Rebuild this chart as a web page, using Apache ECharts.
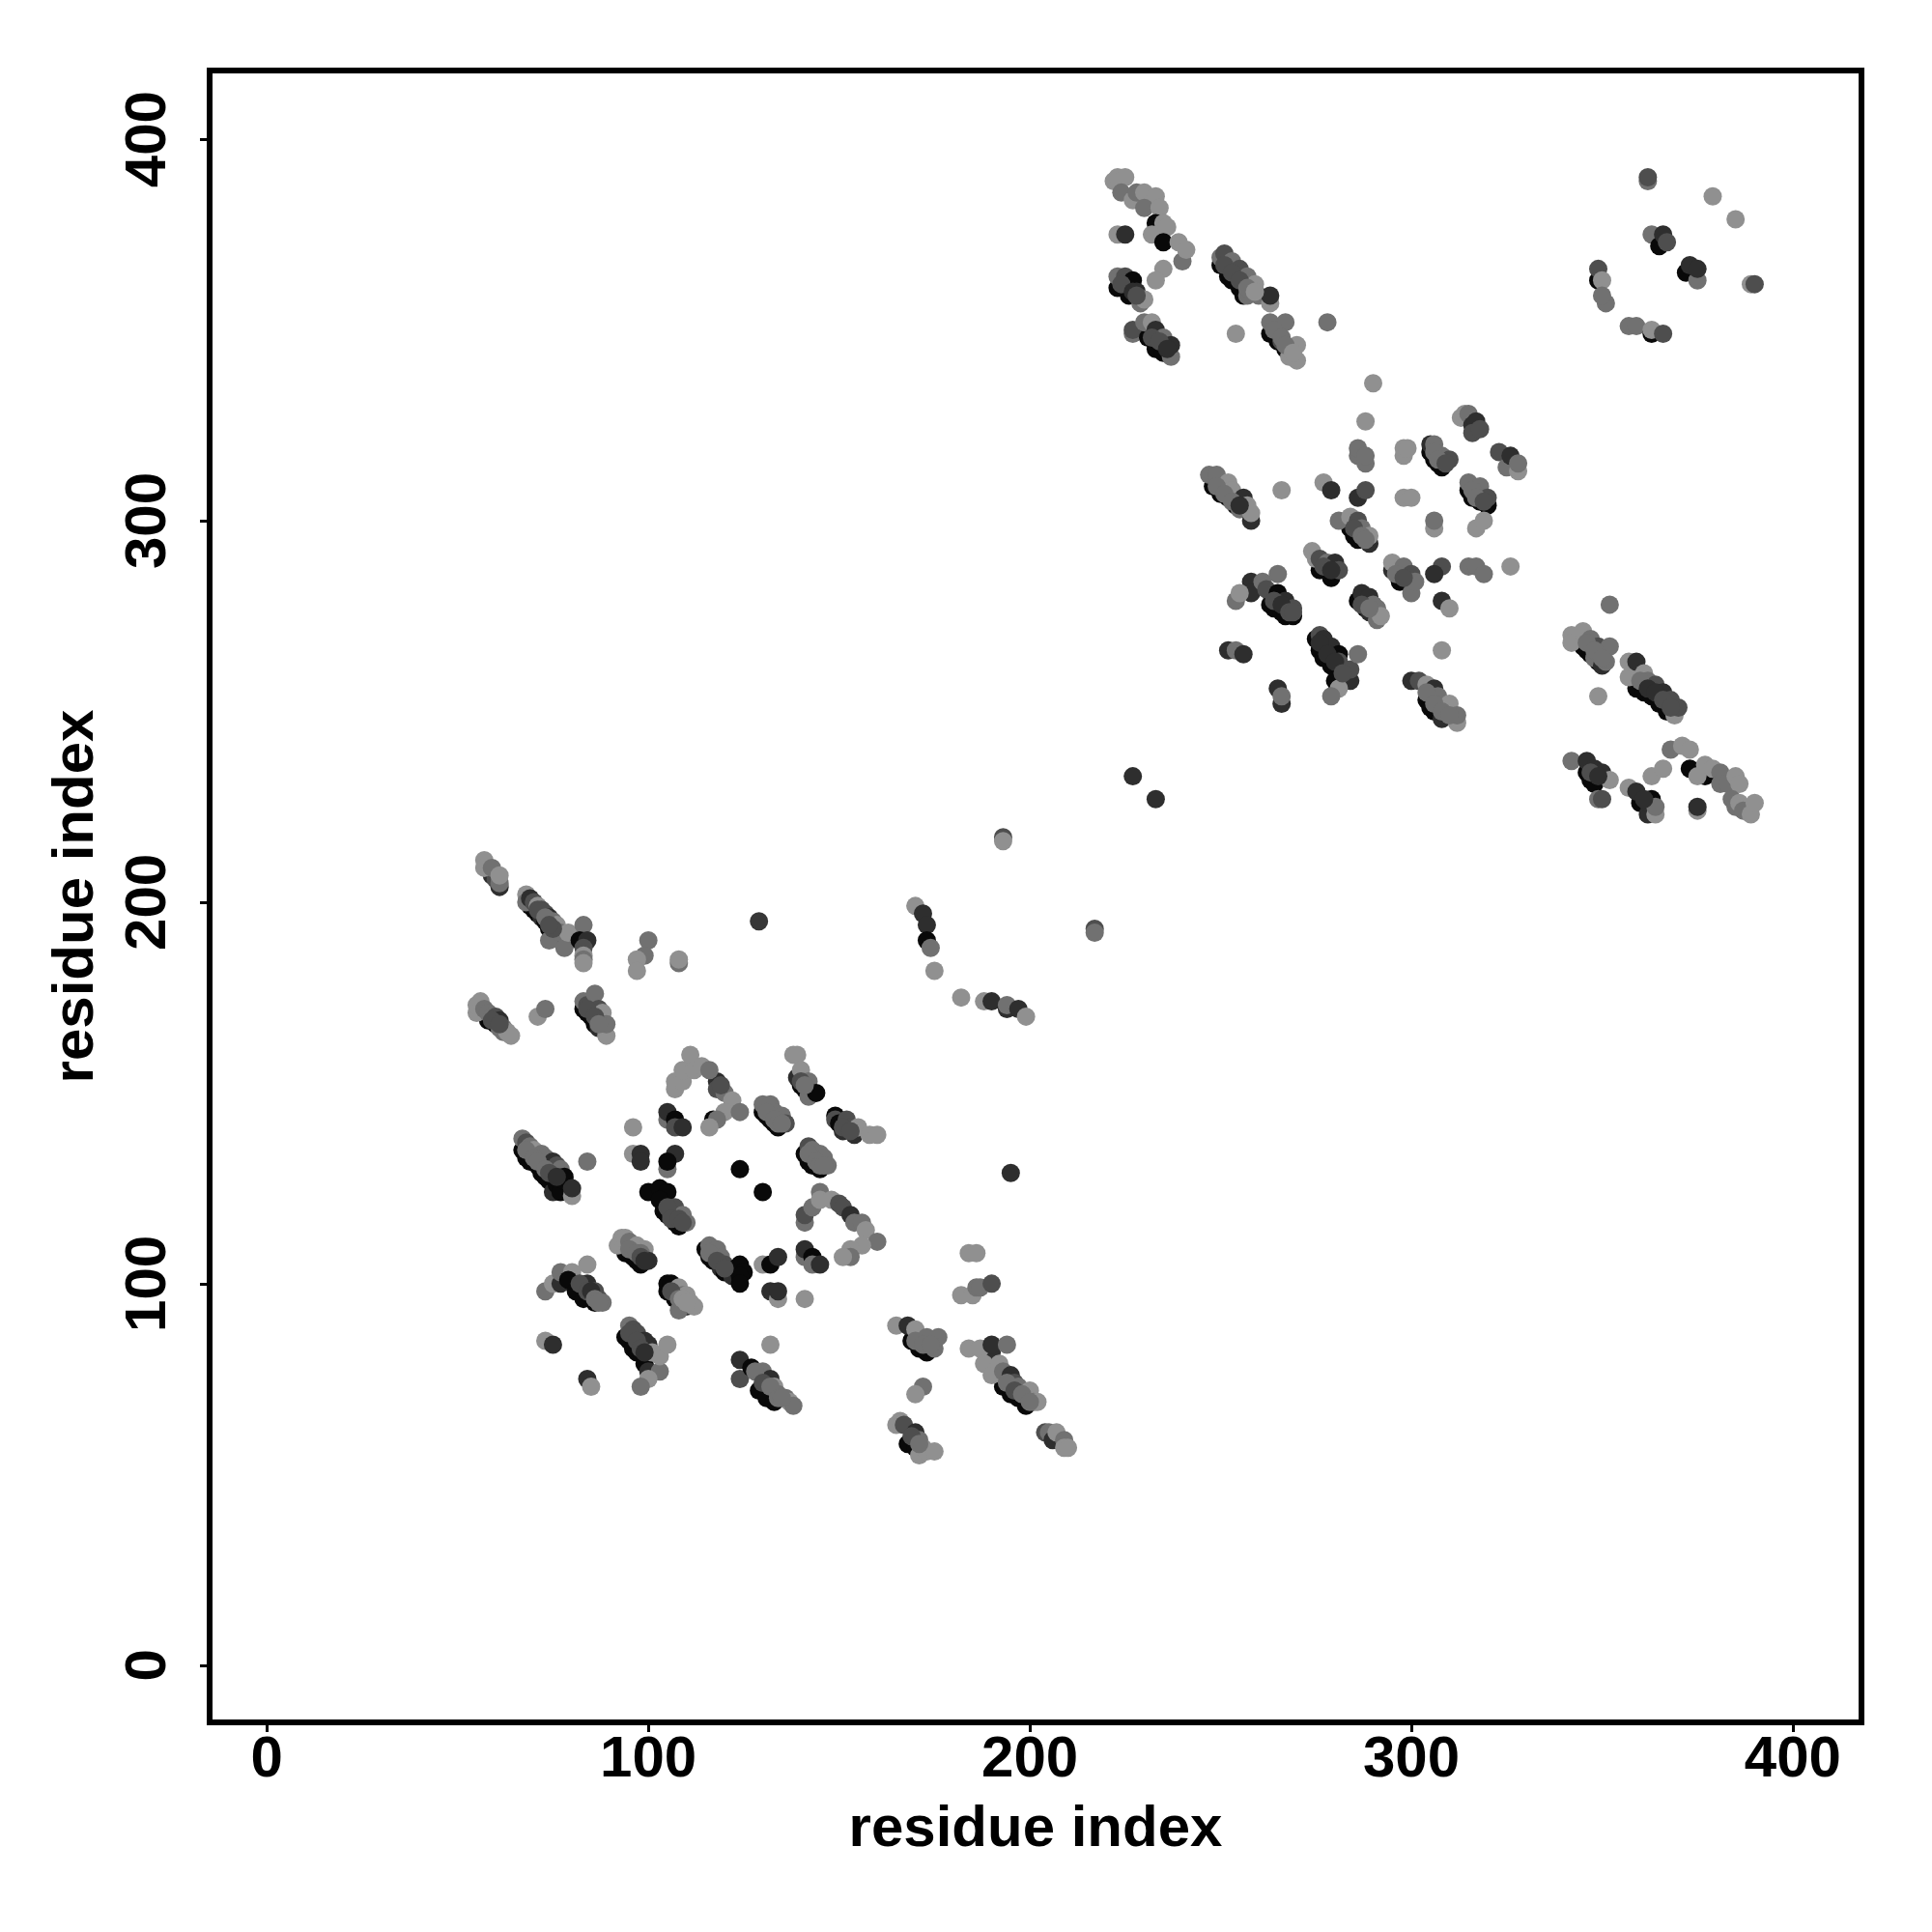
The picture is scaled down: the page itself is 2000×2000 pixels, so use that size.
<!DOCTYPE html>
<html><head><meta charset="utf-8">
<style>html,body{margin:0;padding:0;background:#fff}#c{width:2000px;height:2000px}</style>
<script src="https://cdn.jsdelivr.net/npm/echarts@6/dist/echarts.min.js"></script>
</head><body><div id="c"></div>
<script>
// each contact: [residue i, residue j, shade level 0 (black) .. 100 (lightest grey)]
const tickValues=[0,100,200,300,400];
const axisTitle="residue index";
const a1=[[59,207,25],[61,204,25],[60,206,45],[57,211,93],[57,209,93],[59,209,70],[61,205,70],[61,207,93]];
const a2=[[69,199,5],[70,198,5],[71,197,5],[72,196,25],[73,195,5],[74,193,5],[75,192,5],[76,191,25],[68,202,93],[68,200,70],[69,201,25],[70,200,45],[71,199,93],[72,198,45],[73,197,45],[74,196,25],[74,190,70],[75,195,70],[76,194,93],[77,192,70],[78,188,70],[79,192,93],[83,194,70],[82,190,5],[84,190,25],[83,188,45],[83,186,93],[83,185,70],[83,184,93]];
const a3=[[100,190,70],[99,186,70],[97,185,93],[97,182,93],[108,184,70],[108,185,93],[129,195,30]];
const a4=[[58,169,5],[60,168,5],[55,171,93],[55,173,93],[56,174,93],[57,172,70],[58,171,70],[59,170,70],[60,170,45],[61,169,25],[61,167,70],[62,166,70],[62,167,70],[63,166,93],[64,165,93],[71,170,93],[73,172,70]];
const a5=[[83,172,5],[84,171,5],[85,170,5],[86,168,5],[87,167,25],[83,174,70],[84,173,45],[86,176,70],[87,172,45],[88,171,93],[88,168,70],[89,165,93],[89,168,70]];
const b1=[[118,153,25],[117,143,5],[107,151,93],[107,153,93],[109,153,93],[109,156,93],[111,160,93],[112,156,93],[114,157,93],[116,156,70],[118,151,45],[120,150,70],[122,148,93],[120,145,93],[118,143,70],[116,141,93],[124,145,70]];
const b1b=[[105,143,70],[105,145,25],[107,143,5],[107,141,45],[109,141,25]];
const b2=[[139,154,25],[140,152,5],[141,151,5],[142,149,70],[138,160,93],[139,160,93],[140,156,93],[142,153,70],[144,150,5]];
const b3=[[130,145,5],[131,144,5],[132,143,5],[133,142,5],[134,141,5],[130,147,70],[132,147,70],[133,145,70],[135,144,70],[136,142,45]];
const b4=[[151,140,25],[154,139,25],[149,144,5],[149,143,45],[150,142,5],[152,143,45],[153,141,45],[155,141,93],[158,139,93],[160,139,93]];
const b5=[[141,134,5],[142,132,5],[143,131,5],[145,130,5],[142,136,45],[143,135,70],[145,134,70],[146,133,70],[147,131,70]];
const b6=[[96,141,93],[96,134,93],[98,134,25],[98,132,25],[105,130,70],[107,134,25],[105,132,5],[124,130,5],[130,124,5]];
const c1=[[67,135,5],[68,133,5],[69,132,5],[71,131,5],[72,129,5],[73,128,5],[74,127,5],[75,124,25],[76,126,5],[77,124,5],[78,127,5],[80,123,93],[67,138,70],[68,137,45],[69,136,70],[70,135,93],[72,134,70],[73,133,70],[75,132,25],[76,131,45],[77,130,70],[78,128,5],[80,125,25],[84,132,70]];
const c2=[[100,124,5],[103,125,5],[105,124,5],[103,122,5],[104,119,5],[105,118,5],[107,116,5],[108,115,5],[106,118,45],[107,120,45],[109,118,70],[110,116,70]];
const c3=[[141,116,70],[141,118,45],[143,120,70],[145,124,70],[145,122,93],[148,122,93],[150,121,45],[151,120,45],[153,118,25],[154,116,70],[156,116,70],[157,114,93],[160,111,70],[156,110,93],[153,109,93],[153,107,70],[151,107,93]];
const d1=[[93,110,5],[94,108,5],[96,107,5],[97,106,5],[98,105,5],[92,110,93],[93,112,93],[94,112,93],[95,111,70],[97,110,93],[99,109,93],[98,108,70],[100,106,25]];
const d2=[[115,109,5],[116,107,5],[117,106,5],[119,104,25],[120,103,5],[116,110,70],[118,109,70],[119,107,70],[119,106,70],[120,105,45],[122,102,25],[123,104,5],[124,105,5],[125,103,5],[124,102,5],[124,100,5]];
const d3=[[130,105,93],[132,105,5],[134,107,25],[141,107,70],[141,109,25],[143,107,5],[143,105,70],[145,105,25]];
const d4=[[132,98,25],[134,96,93],[134,98,25],[141,96,93]];
const e1=[[73,98,70],[75,100,93],[77,100,25],[77,103,70],[80,103,93],[79,101,5],[84,105,93],[81,98,5],[84,100,25],[83,96,5],[85,97,5],[86,98,45],[86,95,5],[87,96,45],[88,95,70]];
const f1=[[105,98,5],[105,100,5],[106,100,5],[107,96,5],[109,95,5],[110,94,25],[108,99,93],[109,97,70],[110,97,93],[111,95,93],[108,93,70],[112,94,93]];
const g1=[[73,85,93],[75,84,25],[84,75,25],[85,73,93]];
const h1=[[94,86,5],[95,85,5],[96,83,5],[97,82,5],[99,79,5],[95,89,70],[96,88,45],[97,87,45],[99,85,25],[100,84,25],[100,77,25],[103,77,70],[100,75,93],[98,73,70],[101,82,93],[103,81,93],[105,84,93]];
const i1=[[124,80,25],[124,75,45],[127,78,5],[129,72,5],[131,70,5],[133,69,5],[130,77,70],[132,75,25],[133,73,93],[134,71,70],[136,70,70],[137,69,93],[138,68,70],[132,84,93]];
const j1=[[175,182,93],[182,175,93],[188,174,93],[190,174,25],[194,172,25],[194,173,70],[197,172,25],[199,170,93],[195,129,25],[184,108,93],[186,108,93],[182,97,93],[185,97,93],[186,99,70],[187,99,70],[190,100,45]];
const k1=[[169,85,5],[171,83,5],[173,82,5],[165,89,93],[168,89,25],[170,88,93],[173,86,70],[175,83,70],[176,86,70],[172,73,70],[170,71,93]];
const l1=[[168,58,5],[170,57,5],[165,63,93],[166,64,93],[167,63,45],[170,61,25],[171,59,70],[171,55,93],[172,57,93],[173,56,93],[175,56,93]];
const m1=[[193,73,5],[195,71,5],[197,70,5],[199,68,5],[190,82,25],[184,83,93],[187,83,93],[190,84,25],[194,84,70],[188,79,93],[190,76,93],[192,79,93],[193,77,70],[195,76,25],[196,74,45],[197,73,70],[199,71,70],[200,72,93],[201,69,70],[202,69,93]];
const n1=[[204,61,45],[205,61,70],[206,59,25],[207,61,93],[209,59,70],[209,57,93],[210,57,93]];
const s1=[[193,217,45],[193,216,93],[217,193,45],[217,192,70],[227,233,25],[233,227,25],[170,199,93],[172,197,25],[173,194,25],[173,190,5],[174,188,70]];
const o1=[[222,389,93],[223,390,93],[225,390,93],[224,386,70],[227,384,93],[228,386,70],[230,386,93],[233,385,93],[230,382,70],[234,382,93],[223,375,93],[225,375,25],[233,378,5],[232,375,93],[235,378,93],[236,377,93],[235,373,5],[240,368,70],[239,373,93],[241,371,93],[235,366,93],[233,363,93]];
const p1=[[223,361,5],[226,359,5],[223,364,70],[225,364,45],[227,363,5],[228,360,25],[229,357,70],[230,358,93]];
const q1=[[227,349,70],[227,350,45],[231,348,5],[233,345,5],[235,344,5],[230,352,70],[232,352,93],[233,350,25],[235,348,70],[237,343,70],[237,346,25]];
const r1=[[250,367,5],[252,364,5],[253,363,5],[255,361,5],[256,359,5],[250,369,70],[251,370,45],[253,368,70],[255,366,45],[257,364,70],[257,359,70],[259,362,93],[260,359,70],[263,357,93],[263,359,25],[254,349,93]];
const s2=[[263,349,5],[265,347,5],[267,345,5],[263,352,70],[266,347,45],[267,352,70],[268,343,93],[270,342,93],[270,346,93],[278,352,70]];
const t1=[[290,336,93],[288,326,93],[286,317,70],[286,319,70],[288,315,70],[288,317,70]];
const u1=[[248,309,5],[250,307,5],[252,306,5],[254,304,5],[247,312,70],[249,312,70],[252,310,93],[253,308,93],[255,303,70],[256,306,25],[258,300,25],[257,304,93],[258,302,93],[266,308,93],[277,310,93],[279,308,25],[286,306,25],[288,308,45],[298,306,93],[300,306,93],[298,317,93],[298,319,93],[299,319,93]];
const v1=[[305,318,5],[306,316,5],[307,315,5],[308,314,5],[305,320,25],[306,320,70],[308,317,70],[310,316,45]];
const w1=[[313,327,93],[314,328,93],[315,328,70],[316,325,25],[317,326,25],[316,323,45],[318,324,45]];
const x1=[[323,318,45],[325,314,70],[326,317,25],[328,313,93],[328,315,70]];
const y1=[[315,308,5],[316,306,5],[318,305,5],[320,304,5],[315,310,70],[318,309,70],[320,306,45],[306,298,93],[306,300,70],[317,298,93],[319,300,93]];
const z1=[[284,298,5],[285,296,5],[286,295,5],[289,294,25],[281,300,70],[284,301,93],[286,300,45],[287,298,70],[289,296,93]];
const aa=[[276,287,5],[279,285,5],[274,292,93],[275,290,93],[276,290,45],[278,289,70],[280,289,25],[281,287,45]];
const bb=[[297,284,5],[295,287,25],[295,289,93],[298,288,70],[300,286,45],[300,281,70],[301,284,70],[308,288,45],[306,286,25],[315,288,70],[317,288,70],[319,286,70],[326,288,93],[308,279,25],[310,277,93],[308,266,93]];
const cc=[[263,278,5],[264,277,5],[266,276,5],[267,275,5],[269,275,5],[258,284,25],[258,281,25],[254,279,70],[255,281,93],[261,284,70],[262,282,45],[265,286,70],[265,281,5],[267,279,25],[269,277,45]];
const dd=[[286,279,5],[288,277,5],[289,276,25],[287,281,25],[289,280,25],[290,278,70],[291,274,70],[291,277,70],[292,275,93]];
const ee=[[252,266,25],[254,266,70],[256,265,25],[265,256,25],[266,252,25],[266,254,70]];
const ff=[[275,269,5],[276,266,5],[277,264,5],[279,262,5],[281,261,5],[276,270,45],[277,269,25],[279,267,25],[281,265,5],[281,263,45],[280,258,5],[284,258,25],[284,261,45],[281,256,93],[279,254,70],[286,265,70]];
const gg=[[304,253,5],[305,251,5],[306,250,5],[300,258,25],[302,258,45],[304,257,93],[306,256,25],[307,254,70],[308,248,25],[310,252,93],[312,247,93],[312,249,70]];
const hh=[[345,267,5],[346,266,5],[347,265,5],[349,263,5],[342,270,93],[342,268,93],[345,271,93],[347,269,70],[348,264,70],[349,267,45],[350,262,25],[351,263,70],[352,267,70],[349,254,93],[352,278,70]];
const ii=[[359,256,5],[361,255,5],[363,254,5],[365,252,5],[367,250,5],[357,259,93],[357,263,93],[359,263,25],[361,260,93],[362,258,70],[364,257,45],[366,255,25],[368,253,45],[369,249,93],[370,251,45]];
const jj=[[346,234,5],[347,232,5],[348,231,5],[342,237,70],[346,237,25],[348,235,25],[350,234,25],[352,232,93],[349,227,70],[350,227,45]];
const kk=[[360,226,5],[362,223,25],[357,230,93],[359,229,25],[362,226,25],[363,227,5],[364,223,93],[364,225,70],[363,233,93],[366,235,93],[375,224,93],[375,225,25]];
const ll=[[373,235,5],[377,233,5],[368,240,70],[371,241,93],[373,240,93],[375,233,93],[377,236,93],[379,235,93],[381,234,70],[381,231,70],[383,231,70],[385,233,93],[386,231,93],[384,227,70],[385,225,70],[386,226,93],[387,224,70],[389,223,93],[390,226,93]];
const top1=[[362,389,70],[362,390,45],[379,385,93],[385,379,93],[363,375,70],[365,372,5],[366,375,25],[367,373,45],[372,365,5],[373,367,25],[375,363,70],[375,366,25],[389,362,93],[390,362,45]];
const top2=[[349,363,5],[349,366,45],[350,363,93],[351,357,70],[350,359,70],[357,351,70],[359,351,70],[363,349,5],[363,350,93],[366,349,45]];
// residues in the middle of each band, which sit over the darkest contacts
const midLowerLeft=[[71,198,45],[73,196,70],[75,193,45],[74,194,45],[59,169,45],[61,168,45],[84,172,45],[86,170,45],[87,168,70],[119,152,45],[140,153,45],[141,152,70],[131,145,70],[133,143,70],[134,142,70],[135,142,70],[151,141,45],[153,140,45],[142,134,70],[144,132,70],[145,131,70],[146,131,70],[68,135,70],[70,133,70],[71,132,70],[73,130,70],[74,129,45],[76,128,25],[105,120,45],[106,117,45],[108,117,45],[109,116,45]];
const midLowerRight=[[95,109,70],[97,108,70],[98,107,45],[99,106,25],[116,108,70],[118,106,45],[120,104,45],[82,100,45],[84,98,45],[85,98,25],[86,96,70],[87,95,70],[106,98,45],[108,96,70],[109,96,93],[110,95,93],[95,87,45],[97,85,45],[98,83,45],[99,82,25],[128,77,70],[130,74,45],[132,73,70],[134,70,70],[135,70,70],[170,85,70],[172,84,70],[174,84,70],[169,60,45],[171,58,70],[194,74,70],[196,72,45],[198,71,70],[200,69,70]];
const midUpperLeft=[[224,362,45],[227,360,25],[228,359,45],[232,348,45],[234,347,45],[236,345,25],[251,367,45],[253,365,45],[255,363,45],[257,361,70],[259,360,93],[264,350,70],[266,348,70],[267,346,70],[269,344,93],[249,309,70],[251,307,70],[253,305,70],[255,304,25]];
const midUpperRight=[[306,318,70],[307,316,70],[309,315,45],[316,308,70],[317,306,70],[319,305,45],[285,298,45],[287,296,70],[288,295,70],[277,288,45],[279,287,25],[296,286,70],[298,285,45],[264,279,45],[266,278,25],[268,276,45],[269,276,45],[287,278,45],[289,277,70],[276,268,25],[278,265,25],[280,263,25],[282,260,45],[304,255,70],[306,252,70],[308,250,70],[310,249,70],[346,268,70],[348,266,70],[350,264,70],[360,258,70],[362,256,25],[364,255,25],[366,253,45],[368,251,45],[347,234,45],[349,233,25],[361,227,25]];

const stripes=[a1,a2,a3,a4,a5,b1,b1b,b2,b3,b4,b5,b6,c1,c2,c3,d1,d2,d3,d4,e1,f1,g1,h1,i1,j1,k1,l1,m1,n1,s1,o1,p1,q1,r1,s2,t1,u1,v1,w1,x1,y1,z1,aa,bb,cc,dd,ee,ff,gg,hh,ii,jj,kk,ll,top1,top2,midLowerLeft,midLowerRight,midUpperLeft,midUpperRight];
const contacts=stripes.flat();

const fontFamily='"Liberation Sans",Arial,sans-serif';
const axisCommon={
  type:'value',min:-15,max:418,
  name:axisTitle,nameLocation:'middle',
  nameTextStyle:{fontFamily,fontWeight:'bold',fontSize:60,color:'#000'},
  axisLine:{show:false,onZero:false},splitLine:{show:false},
  axisTick:{show:true,length:10,customValues:tickValues,lineStyle:{color:'#000',width:3}},
  axisLabel:{show:true,customValues:tickValues,fontFamily,fontWeight:'bold',fontSize:60,color:'#000'}
};
const chart=echarts.init(document.getElementById('c'),null,{renderer:'canvas'});
chart.setOption({
  animation:false,backgroundColor:'#fff',
  grid:{left:217,right:73,top:73,bottom:217,show:true,borderColor:'#000',borderWidth:6,backgroundColor:'transparent'},
  xAxis:Object.assign({},axisCommon,{nameGap:81,axisLabel:Object.assign({},axisCommon.axisLabel,{margin:9})}),
  yAxis:Object.assign({},axisCommon,{nameGap:108,nameRotate:90,axisLabel:Object.assign({},axisCommon.axisLabel,{rotate:90,margin:33})}),
  visualMap:{show:false,type:'continuous',dimension:2,min:0,max:100,seriesIndex:0,inRange:{color:['#000000','#3d3d3d','#6d6d6d','#999999']}},
  series:[{type:'scatter',data:contacts,symbol:'circle',symbolSize:19,silent:true,itemStyle:{opacity:1}}]
});
</script></body></html>
